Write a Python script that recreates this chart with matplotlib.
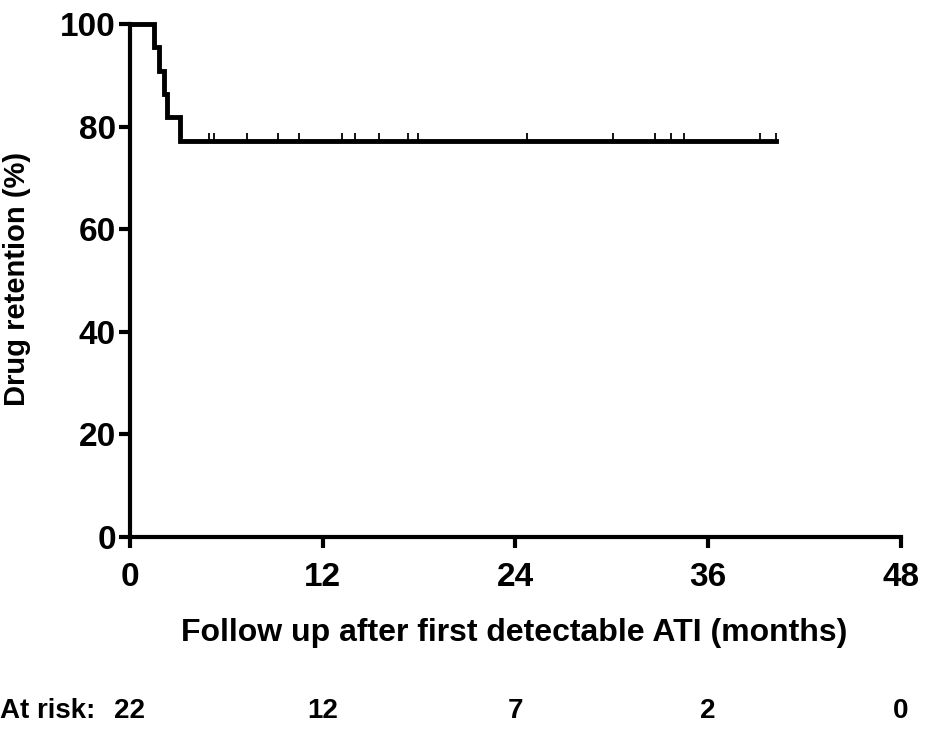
import numpy as np
import matplotlib
matplotlib.use('Agg')
from matplotlib import pyplot as plt
from matplotlib import transforms

plt.rcParams['font.family'] = ['Liberation Sans', 'DejaVu Sans']
plt.rcParams['font.weight'] = 'bold'

# event times (months) - drug discontinuation
event_times = [1.5, 1.8, 2.1, 2.3, 3.1]
# censored times (months)
censor_times = [4.9, 5.2, 7.3, 9.2, 10.5, 13.2, 14.0, 15.5, 17.3, 17.9,
                24.7, 30.1, 32.7, 33.7, 34.5, 39.2, 40.2]
risk_times = [0, 12, 24, 36, 48]
risk_counts = [22, 12, 7, 2, 0]
x_ticks = [0, 12, 24, 36, 48]
y_ticks = [0, 20, 40, 60, 80, 100]

# Kaplan-Meier
times = np.array(event_times + censor_times)
events = np.array([1] * len(event_times) + [0] * len(censor_times))
order = np.argsort(times)
times, events = times[order], events[order]
n = len(times)
surv = 100.0
sx, sy = [0.0], [100.0]
cx, cy = [], []
for i, (t, e) in enumerate(zip(times, events)):
    at_risk = n - i
    if e:
        sx.append(t)
        sy.append(surv)
        surv = surv * (at_risk - 1) / at_risk
        sx.append(t)
        sy.append(surv)
    else:
        cx.append(t)
        cy.append(surv)
sx.append(times[-1])
sy.append(surv)

fig = plt.figure(figsize=(9.28, 7.3), dpi=100)
ax = fig.add_axes([130 / 928, (730 - 537) / 730, 771 / 928, 513 / 730])

ax.plot(sx, sy, color='black', lw=3.5, solid_joinstyle='miter', clip_on=False, zorder=3)
ax.plot(cx, cy, linestyle='none', marker=2, markersize=6, markeredgewidth=1.3,
        color='black', clip_on=False, zorder=3)

ax.set_xlim(0, 48)
ax.set_ylim(0, 100)
ax.set_xticks(x_ticks)
ax.set_yticks(y_ticks)
for s in ['top', 'right']:
    ax.spines[s].set_visible(False)
for s in ['left', 'bottom']:
    ax.spines[s].set_linewidth(3)
ax.tick_params(width=3, length=8, labelsize=24)
ax.tick_params(axis='x', pad=10)
ax.tick_params(axis='y', pad=2)
for lab in ax.get_xticklabels() + ax.get_yticklabels():
    lab.set_fontweight('bold')

fig.text(17 / 928, 1 - 279 / 730, 'Drug retention (%)', rotation=90,
         ha='center', va='center', fontsize=21, fontweight='bold')
fig.text(514 / 928, 1 - 633 / 730, 'Follow up after first detectable ATI (months)',
         ha='center', va='center', fontsize=23, fontweight='bold')

trans = transforms.blended_transform_factory(ax.transData, fig.transFigure)
yr = 1 - 711 / 730
for t, c in zip(risk_times, risk_counts):
    ax.text(t, yr, str(c), transform=trans, ha='center', va='center',
            fontsize=20, fontweight='bold')
fig.text(0, yr, 'At risk:', ha='left', va='center', fontsize=20,
         fontweight='bold')

plt.savefig('out.png', dpi=100)
